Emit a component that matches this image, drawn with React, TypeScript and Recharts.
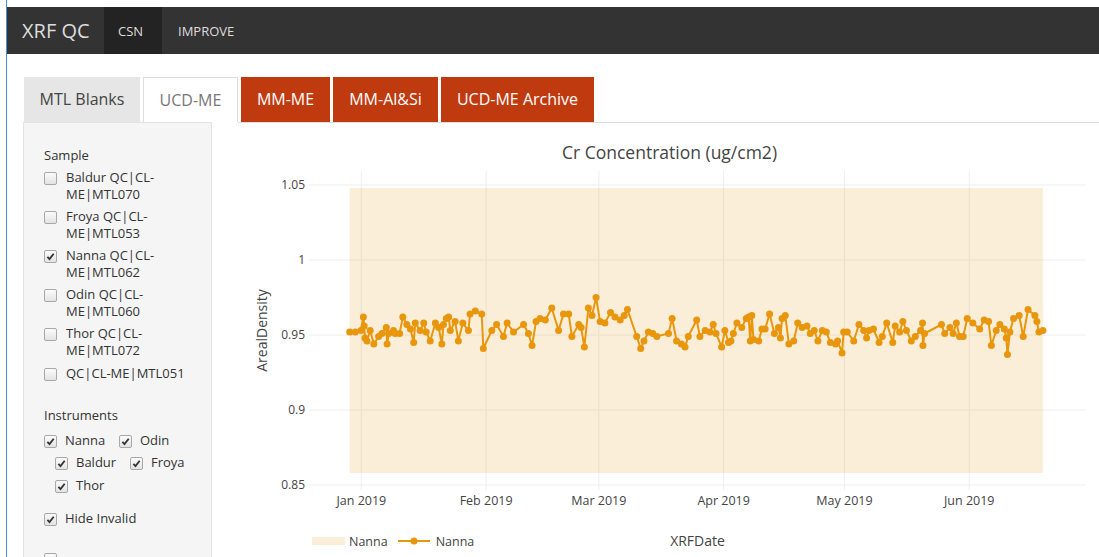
import React from 'react';
import { ComposedChart, Line, Area, XAxis, YAxis, CartesianGrid, Legend } from 'recharts';

// run day, counted from 2019-01-01 (fractions = several runs on one day)
const runDay = [
  -2.9, -1.5, -0.1, 0.5, 0.7, 0.9, 1.4, 2.2, 3.1, 4.3, 5.1, 6.2, 6.4, 6.8, 8.0, 8.4, 9.5, 10.3, 11.3, 12.2,
  13.0, 13.4, 14.6, 15.5, 16.1, 17.1, 18.4, 19.2, 20.0, 20.4, 21.1, 21.7, 22.1, 23.3, 24.1, 25.2, 26.6, 27.0, 28.3, 29.9,
  30.3, 32.4, 33.6, 35.3, 36.2, 37.8, 40.3, 41.5, 42.4, 43.4, 44.4, 45.7, 47.3, 49.0, 50.2, 51.5, 52.3, 54.0, 54.6, 55.4,
  56.4, 57.3, 58.3, 59.3, 60.5, 61.9, 63.0, 64.3, 65.3, 66.1, 68.4, 69.4, 70.2, 71.3, 72.4, 73.4, 76.3, 77.2, 78.3, 79.5,
  80.4, 81.2, 83.3, 84.1, 85.4, 86.6, 87.4, 88.1, 89.5, 90.3, 91.2, 91.8, 92.4, 93.3, 94.5, 95.6, 96.2, 96.6, 97.0, 97.4,
  98.7, 99.5, 100.3, 101.4, 102.6, 103.6, 104.1, 104.5, 105.3, 106.2, 107.4, 108.4, 109.5, 110.7, 111.5, 112.5, 113.4, 114.5, 115.5, 116.5,
  117.8, 118.3, 119.4, 119.8, 120.7, 122.3, 123.6, 124.8, 125.5, 126.1, 127.2, 128.6, 129.4, 130.5, 132.0, 132.6, 133.7, 134.5, 135.4, 136.6,
  137.6, 138.9, 139.4, 139.5, 139.9, 144.1, 144.9, 146.2, 147.0, 147.8, 148.6, 149.5, 150.5, 151.9, 153.6, 154.7, 155.8, 156.5, 157.7, 158.6,
  159.7, 160.2, 160.5, 161.1, 162.0, 163.4, 164.4, 165.6, 167.3, 167.8, 168.3, 169.3,
];

const nannaDensity = [
  0.952, 0.952, 0.953, 0.962, 0.956, 0.948, 0.946, 0.953, 0.944, 0.949, 0.951, 0.955, 0.944, 0.951, 0.953, 0.951, 0.951, 0.962, 0.957, 0.954,
  0.945, 0.958, 0.953, 0.958, 0.952, 0.946, 0.958, 0.955, 0.944, 0.957, 0.961, 0.962, 0.953, 0.959, 0.946, 0.958, 0.953, 0.964, 0.966, 0.964,
  0.941, 0.953, 0.957, 0.949, 0.958, 0.952, 0.957, 0.951, 0.943, 0.959, 0.961, 0.96, 0.968, 0.953, 0.964, 0.964, 0.949, 0.957, 0.955, 0.942,
  0.968, 0.963, 0.975, 0.959, 0.958, 0.965, 0.962, 0.96, 0.963, 0.967, 0.949, 0.941, 0.946, 0.952, 0.951, 0.949, 0.951, 0.961, 0.946, 0.944,
  0.942, 0.949, 0.96, 0.949, 0.953, 0.952, 0.957, 0.951, 0.942, 0.953, 0.945, 0.946, 0.951, 0.958, 0.955, 0.961, 0.962, 0.946, 0.963, 0.947,
  0.946, 0.954, 0.954, 0.964, 0.951, 0.955, 0.948, 0.961, 0.963, 0.944, 0.946, 0.958, 0.955, 0.956, 0.951, 0.953, 0.946, 0.953, 0.952, 0.945,
  0.944, 0.946, 0.938, 0.952, 0.952, 0.946, 0.957, 0.953, 0.948, 0.953, 0.954, 0.945, 0.949, 0.958, 0.945, 0.956, 0.952, 0.959, 0.953, 0.946,
  0.949, 0.953, 0.958, 0.943, 0.951, 0.957, 0.951, 0.955, 0.951, 0.958, 0.949, 0.949, 0.961, 0.958, 0.954, 0.96, 0.959, 0.943, 0.953, 0.957,
  0.954, 0.948, 0.937, 0.952, 0.961, 0.963, 0.949, 0.967, 0.963, 0.959, 0.952, 0.953,
];

// control band for Nanna
const bandLow = 0.858;
const bandHigh = 1.048;

const monthTicks = [0, 31, 59, 90, 120, 151];
const monthLabels = ['Jan 2019', 'Feb 2019', 'Mar 2019', 'Apr 2019', 'May 2019', 'Jun 2019'];
const densityTicks = [0.85, 0.9, 0.95, 1, 1.05];

const ORANGE = '#e8960c';
const FONT = '"Open Sans", sans-serif';

const lineData = runDay.map((day, i) => ({ day, density: nannaDensity[i] }));
const bandData = [
  { day: runDay[0], range: [bandLow, bandHigh] },
  { day: runDay[runDay.length - 1], range: [bandLow, bandHigh] },
];

const tabs = [
  { label: 'MTL Blanks', left: 24, width: 116, bg: '#e6e6e6', color: '#444' },
  { label: 'UCD-ME', left: 143, width: 95, bg: '#fff', color: '#777' },
  { label: 'MM-ME', left: 241, width: 89, bg: '#bf3a0f', color: '#fff' },
  { label: 'MM-Al&Si', left: 333, width: 105, bg: '#bf3a0f', color: '#fff' },
  { label: 'UCD-ME Archive', left: 441, width: 153, bg: '#bf3a0f', color: '#fff' },
];

const samples = [
  { lines: ['Baldur QC|CL-', 'ME|MTL070'], y: 178, on: false },
  { lines: ['Froya QC|CL-', 'ME|MTL053'], y: 217, on: false },
  { lines: ['Nanna QC|CL-', 'ME|MTL062'], y: 256, on: true },
  { lines: ['Odin QC|CL-', 'ME|MTL060'], y: 295, on: false },
  { lines: ['Thor QC|CL-', 'ME|MTL072'], y: 334, on: false },
  { lines: ['QC|CL-ME|MTL051'], y: 374, on: false },
];

const instruments = [
  { label: 'Nanna', x: 44, y: 441 },
  { label: 'Odin', x: 119, y: 441 },
  { label: 'Baldur', x: 55, y: 463 },
  { label: 'Froya', x: 130, y: 463 },
  { label: 'Thor', x: 55, y: 486 },
  { label: 'Hide Invalid', x: 44, y: 519 },
];

const Box = ({ x, y, on }: { x: number; y: number; on: boolean }) => (
  <div
    style={{
      position: 'absolute', left: x, top: y - 6.5, width: 13, height: 13, boxSizing: 'border-box',
      border: '1px solid #a8a8a8', borderRadius: 2, background: 'linear-gradient(#fbfbfb, #e3e3e3)',
    }}
  >
    {on && (
      <svg width={11} height={11} style={{ position: 'absolute', left: 0, top: 0 }}>
        <path d="M2.4 5.9 L4.5 8.1 L8.7 2.7" stroke="#333" strokeWidth={1.8} fill="none" />
      </svg>
    )}
  </div>
);

const Label = ({ x, y, children }: { x: number; y: number; children: React.ReactNode }) => (
  <div style={{ position: 'absolute', left: x, top: y - 9, lineHeight: '17px', fontSize: 13, whiteSpace: 'nowrap', color: '#333' }}>
    {children}
  </div>
);

const LegendContent = ({ payload }: any) => (
  <div style={{ display: 'flex', alignItems: 'center', height: 18, fontSize: 12.5, color: '#444', fontFamily: FONT }}>
    {(payload || []).map((entry: any, i: number) => (
      <div key={i} style={{ display: 'flex', alignItems: 'center', marginRight: 10 }}>
        {entry.type === 'rect' ? (
          <div style={{ width: 33, height: 8, background: ORANGE, opacity: 0.16 }} />
        ) : (
          <svg width={32} height={10}>
            <line x1={0} y1={5} x2={32} y2={5} stroke={ORANGE} strokeWidth={2} />
            <circle cx={16} cy={5} r={3.5} fill={ORANGE} />
          </svg>
        )}
        <span style={{ marginLeft: entry.type === 'rect' ? 4 : 6 }}>{entry.value}</span>
      </div>
    ))}
  </div>
);

export default function App() {
  return (
    <div
      style={{
        position: 'absolute', left: 0, top: 0, width: 1099, height: 557, overflow: 'hidden',
        background: '#fff', fontFamily: FONT, color: '#333',
      }}
    >
      <div style={{ position: 'absolute', left: 6, top: 0, width: 1, height: 557, background: '#4a90d9' }} />

      {/* navbar */}
      <div style={{ position: 'absolute', left: 7, top: 7, width: 1092, height: 47, background: '#333' }} />
      <div style={{ position: 'absolute', left: 104, top: 7, width: 58, height: 47, background: '#232323' }} />
      <div style={{ position: 'absolute', left: 22, top: 17, fontSize: 20, lineHeight: '28px', color: '#ddd' }}>XRF QC</div>
      <div style={{ position: 'absolute', left: 118, top: 22, fontSize: 13, lineHeight: '18px', color: '#ddd' }}>CSN</div>
      <div style={{ position: 'absolute', left: 178, top: 22, fontSize: 13, lineHeight: '18px', color: '#ddd' }}>IMPROVE</div>

      {/* tabs */}
      <div style={{ position: 'absolute', left: 238, top: 122, width: 861, height: 1, background: '#ddd' }} />
      {tabs.map((t) => (
        <div
          key={t.label}
          style={{
            position: 'absolute', left: t.left, top: 77, width: t.width, height: 45, boxSizing: 'border-box',
            background: t.bg, color: t.color, fontSize: 16, textAlign: 'center',
            border: t.bg === '#fff' ? '1px solid #ddd' : 'none', borderBottom: 'none',
            lineHeight: t.bg === '#fff' ? '44px' : '45px',
          }}
        >
          {t.label}
        </div>
      ))}

      {/* sidebar */}
      <div
        style={{
          position: 'absolute', left: 23, top: 122, width: 189, height: 450, boxSizing: 'border-box',
          background: '#f5f5f5', border: '1px solid #e3e3e3',
        }}
      />
      <Label x={44} y={156}>Sample</Label>
      {samples.map((s) => (
        <React.Fragment key={s.lines.join('')}>
          <Box x={44} y={s.y} on={s.on} />
          <Label x={66} y={s.y}>
            {s.lines.map((l, i) => (
              <React.Fragment key={i}>
                {i > 0 && <br />}
                {l}
              </React.Fragment>
            ))}
          </Label>
        </React.Fragment>
      ))}
      <Label x={44} y={416}>Instruments</Label>
      {instruments.map((s) => (
        <React.Fragment key={s.label}>
          <Box x={s.x} y={s.y} on={true} />
          <Label x={s.x + 21} y={s.y}>{s.label}</Label>
        </React.Fragment>
      ))}
      <Box x={44} y={559} on={false} />

      {/* chart */}
      <div style={{ position: 'absolute', left: 240, top: 141, width: 859, textAlign: 'center', fontSize: 17.5, lineHeight: '22px', color: '#444' }}>
        Cr Concentration (ug/cm2)
      </div>
      <div style={{ position: 'absolute', left: 240, top: 130 }}>
        <ComposedChart width={859} height={427} margin={{ top: 41, right: 13, bottom: 37, left: 10 }}>
          <CartesianGrid stroke="#eeeeee" horizontalValues={densityTicks} verticalValues={monthTicks} />
          <XAxis
            type="number"
            dataKey="day"
            domain={[-13, 180]}
            allowDataOverflow
            ticks={monthTicks}
            tickFormatter={(v: number) => monthLabels[monthTicks.indexOf(v)]}
            axisLine={false}
            tickLine={false}
            tickSize={0}
            tickMargin={6}
            height={30}
            tick={{ fontSize: 12.5, fill: '#444', fontFamily: FONT }}
            label={{ value: 'XRFDate', position: 'bottom', offset: 16, fontSize: 14, fill: '#444', fontFamily: FONT }}
          />
          <YAxis
            type="number"
            domain={[0.8467, 1.0593]}
            allowDataOverflow
            ticks={densityTicks}
            width={59}
            axisLine={false}
            tickLine={false}
            tickSize={0}
            tickMargin={4}
            tick={{ fontSize: 12, fill: '#444', fontFamily: FONT }}
            label={{
              value: 'ArealDensity', angle: -90, position: 'insideLeft', offset: 12,
              fontSize: 14, fill: '#444', fontFamily: FONT, style: { textAnchor: 'middle' },
            }}
          />
          <Area
            data={bandData}
            dataKey="range"
            name="Nanna"
            type="linear"
            stroke="none"
            fill={ORANGE}
            fillOpacity={0.16}
            legendType="rect"
            isAnimationActive={false}
          />
          <Line
            data={lineData}
            dataKey="density"
            name="Nanna"
            type="linear"
            stroke={ORANGE}
            strokeWidth={2}
            dot={{ r: 3.5, fill: ORANGE, stroke: ORANGE, strokeWidth: 0 }}
            activeDot={false}
            legendType="line"
            isAnimationActive={false}
          />
          <Legend
            layout="horizontal"
            align="center"
            verticalAlign="middle"
            content={<LegendContent />}
            wrapperStyle={{ position: 'absolute', left: 72, top: 402, width: 220, height: 18, margin: 0 }}
          />
        </ComposedChart>
      </div>
    </div>
  );
}
